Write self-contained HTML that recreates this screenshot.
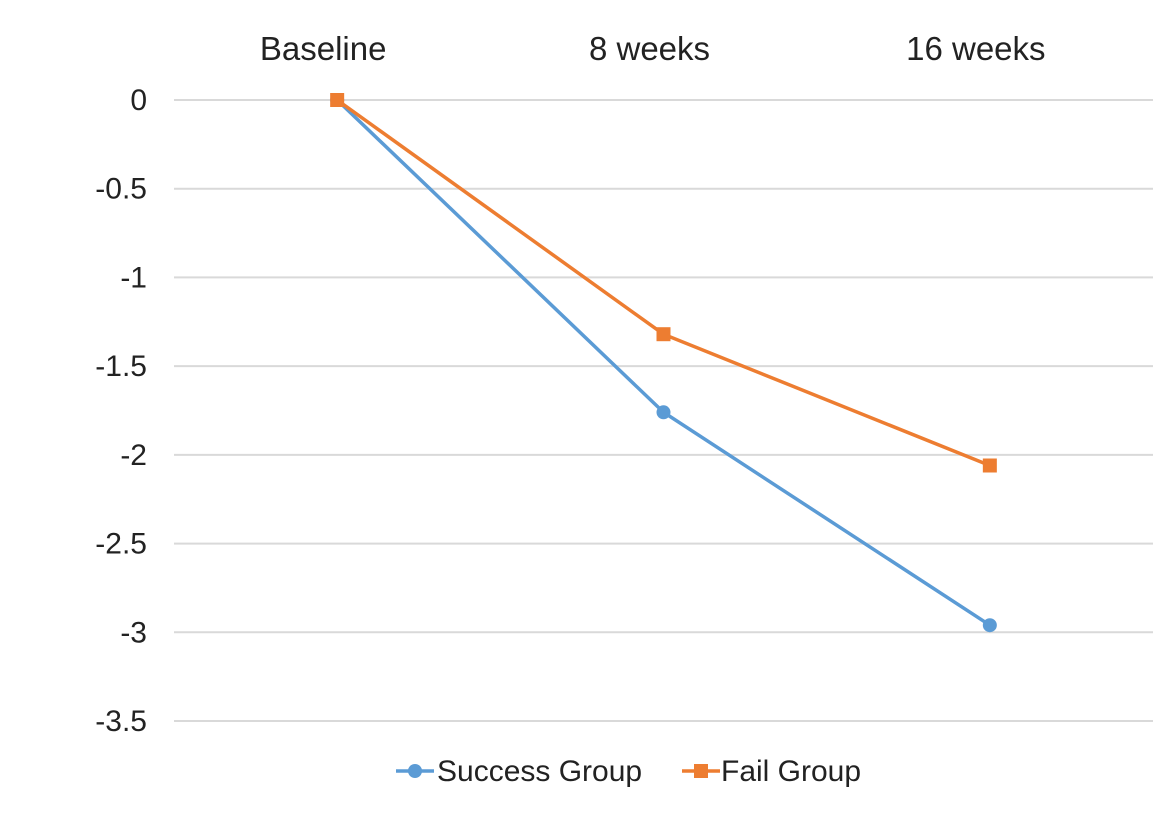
<!DOCTYPE html>
<html><head><meta charset="utf-8"><style>
html,body{margin:0;padding:0;background:#fff;}
svg{display:block;font-family:"Liberation Sans",Arial,sans-serif;}
</style></head><body>
<svg id="chart" width="1170" height="814"></svg>
<script>
const categories=["Baseline","8 weeks","16 weeks"];
const successValues=[0,-1.76,-2.96];
const failValues=[0,-1.32,-2.06];
const yTicks=[0,-0.5,-1,-1.5,-2,-2.5,-3,-3.5];
const yTickLabels=["0","-0.5","-1","-1.5","-2","-2.5","-3","-3.5"];

const svgEl=document.getElementById('chart');
const NS="http://www.w3.org/2000/svg";
const plotLeft=174,plotRight=1153,plotTop=100,plotBottom=721;
const yMin=-3.5,yMax=0;
function yScale(v){return plotTop+(yMax-v)/(yMax-yMin)*(plotBottom-plotTop);}
function xScale(i){const w=(plotRight-plotLeft)/categories.length;return plotLeft+w*(i+0.5);}
function mk(tag,attrs,parent){const e=document.createElementNS(NS,tag);for(const k in attrs)e.setAttribute(k,attrs[k]);(parent||svgEl).appendChild(e);return e;}

yTicks.forEach((t,i)=>{
  const g=mk('line',{x1:plotLeft,x2:plotRight,y1:yScale(t),y2:yScale(t),stroke:'#d9d9d9','stroke-width':2});
  
  
  const l=mk('text',{x:147,y:yScale(t)+10,'text-anchor':'end','font-size':30,fill:'#222'});
  l.textContent=yTickLabels[i];
  
  
});
categories.forEach((c,i)=>{
  const l=mk('text',{x:xScale(i)-14,y:60,'text-anchor':'middle','font-size':33,fill:'#222'});
  l.textContent=c;
  
  
});
function series(vals,color,shape,name){
  const pts=vals.map((v,i)=>xScale(i)+','+yScale(v)).join(' ');
  const p=mk('polyline',{points:pts,fill:'none',stroke:color,'stroke-width':3.5});
  
  
  vals.forEach((v,i)=>{
    let m;
    if(shape==='circle')m=mk('circle',{cx:xScale(i),cy:yScale(v),r:7,fill:color});
    else m=mk('rect',{x:xScale(i)-7,y:yScale(v)-7,width:14,height:14,fill:color});
    
    
  });
}
series(successValues,'#5b9bd5','circle','success-group');
series(failValues,'#ed7d31','square','fail-group');

const lg=mk('g',{});


mk('line',{x1:396,x2:434,y1:771,y2:771,stroke:'#5b9bd5','stroke-width':3.5},lg);
mk('circle',{cx:415,cy:771,r:7,fill:'#5b9bd5'},lg);
const t1=mk('text',{x:437,y:781,'font-size':30,fill:'#222'},lg);t1.textContent='Success Group';


mk('line',{x1:682,x2:720,y1:771,y2:771,stroke:'#ed7d31','stroke-width':3.5},lg);
mk('rect',{x:694,y:764,width:14,height:14,fill:'#ed7d31'},lg);
const t2=mk('text',{x:721,y:781,'font-size':30,fill:'#222'},lg);t2.textContent='Fail Group';


</script>
</body></html>
